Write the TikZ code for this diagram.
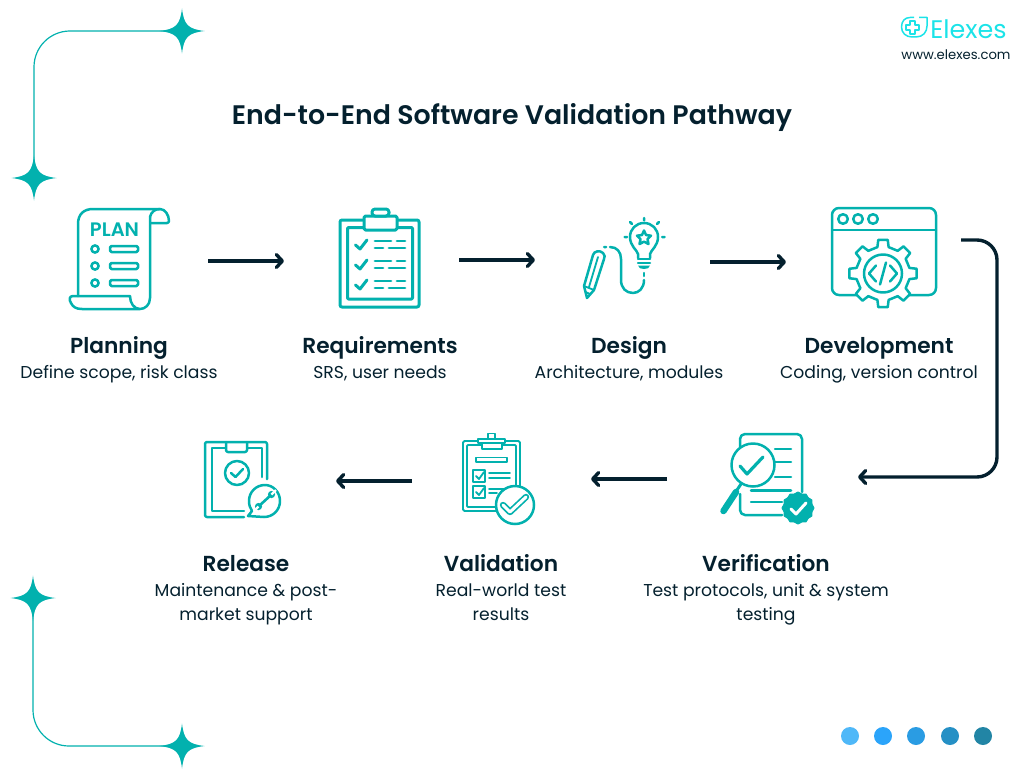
\documentclass[tikz,border=0pt]{standalone}
\usepackage{fontspec}
\setmainfont{Poppins}[BoldFont={Poppins SemiBold}]
\usepackage{xcolor}
\usetikzlibrary{arrows.meta}
\definecolor{tealline}{HTML}{02B1AE}
\definecolor{inkdark}{HTML}{04202E}
\definecolor{logocyan}{HTML}{1BE3E8}
\tikzset{
  icon/.style={draw=tealline,line width=2.5pt,line join=round,line cap=round},
  thinicon/.style={draw=tealline,line width=1.8pt,line join=round,line cap=round},
  flow/.style={draw=inkdark,line width=3.4pt,-{Straight Barb[length=6pt,width=13pt,round]}},
  stage/.style={font=\bfseries\fontsize{21.7}{24}\selectfont,text=inkdark,inner sep=0pt,anchor=base},
  note/.style={font=\fontsize{17.2}{24}\selectfont,text=inkdark,inner sep=0pt,align=center,anchor=base},
  sparkle/.pic={\fill[tealline] (0,-22.5) .. controls (2,-6) and (6,-2) .. (22.5,0) .. controls (6,2) and (2,6) .. (0,22.5) .. controls (-2,6) and (-6,2) .. (-22.5,0) .. controls (-6,-2) and (-2,-6) .. (0,-22.5) -- cycle;},
}
\begin{document}
\begin{tikzpicture}[x=1pt,y=-1pt]
  \useasboundingbox (0,0) rectangle (1024,768);
  % corner ornaments
  \coordinate (sparkA) at (182,31);
  \coordinate (sparkB) at (34,178);
  \coordinate (sparkC) at (33,598);
  \coordinate (sparkD) at (182,746);
  \draw[tealline,line width=1.2pt,rounded corners=36pt] (sparkA) -- (34,31) -- (sparkB);
  \draw[tealline,line width=1.2pt,rounded corners=36pt] (sparkC) -- (33,746) -- (sparkD);
  \pic at (sparkA) {sparkle};
  \pic at (sparkB) {sparkle};
  \pic at (sparkC) {sparkle};
  \pic at (sparkD) {sparkle};
  % logo
  \draw[logocyan,line width=1.5pt,line join=round] (914,17.5) -- (910,17.5) .. controls (905,17.5) and (901.5,21) .. (901.5,27) .. controls (901.5,33) and (906,37) .. (912,37) -- (916,37) .. controls (923,37) and (927,32) .. (927,26) -- (927,17.5) -- (919,17.5);
  \draw[logocyan,line width=1.5pt,line join=round] (910,21) -- (915,21) -- (915,25) -- (919,25) -- (919,30) -- (915,30) -- (915,34) -- (910,34) -- (910,30) -- (906,30) -- (906,25) -- (910,25) -- cycle;
  \node[inner sep=0pt,text=logocyan,font=\fontsize{25.4}{28}\selectfont] (brand) at (968.5,29) {Elexes};
  \node[inner sep=0pt,text=inkdark,font=\fontsize{13.2}{16}\selectfont] (site) at (956,55) {www.elexes.com};
  % title
  \node[inner sep=0pt,text=inkdark,font=\bfseries\fontsize{26.8}{30}\selectfont] (title) at (512,118) {End-to-End Software Validation Pathway};
  % plan scroll
  \draw[icon] (150,217) -- (150,298) .. controls (150,305) and (145,309) .. (140,309) .. controls (134,309) and (130,303) .. (130,296) -- (73,296) .. controls (69,296) and (69,300) .. (71,303) .. controls (73,307) and (76,309) .. (82,309) -- (140,309);
  \draw[icon] (78,296) -- (78,224) .. controls (78,214) and (84,209) .. (93,209) -- (160,209) .. controls (165,209) and (169,215) .. (169,221) .. controls (169,222) and (168,223) .. (167,223) -- (151,223);
  \draw[icon] (150,217) .. controls (151,212) and (155,209) .. (160,209);
  \node[inner sep=0pt,text=tealline,font=\bfseries\fontsize{19.5}{24}\selectfont] (plan) at (114.5,230) {PLAN};
  \foreach \y in {249,266,283} {
    \draw[icon] (95,\y) circle (3.6);
    \draw[icon,rounded corners=1.5pt] (110,\y-3) rectangle (138,\y+3);
  }
  % clipboard
  \draw[icon,line width=3pt,rounded corners=2pt] (340,220) rectangle (419,307);
  \draw[icon,line width=3pt,rounded corners=1pt] (347.5,227.5) rectangle (412.5,299);
  \draw[icon,line width=3pt,fill=white,rounded corners=1.5pt] (364,216) rectangle (397,230);
  \draw[icon,line width=3pt,fill=white,rounded corners=3pt] (372,209) rectangle (389,216);
  \foreach \y in {0,20,40} {
    \draw[icon,line width=3pt] (355.5,245+\y) -- (360,249+\y) -- (367,240+\y);
    \draw[icon,line width=2.8pt] (375,241+\y) -- (391,241+\y) (397,241+\y) -- (405,241+\y);
    \draw[icon,line width=2.8pt] (375,248+\y) -- (383,248+\y) (389,248+\y) -- (405,248+\y);
  }
  % bulb and pencil
  \draw[icon] (638,258) -- (638,254) .. controls (637,250) and (630,246) .. (630,237) .. controls (630,229) and (636,223) .. (644,223) .. controls (652,223) and (658,229) .. (658,237) .. controls (658,246) and (651,250) .. (650,254) -- (650,258);
  \draw[icon] (638,259) -- (650,259) (638,263) -- (650,263);
  \fill[tealline] (638,265.5) -- (650,265.5) .. controls (650,268) and (647,269) .. (644,269) .. controls (641,269) and (638,268) .. (638,265.5) -- cycle;
  \draw[icon] (644,230.5) -- (646,235) -- (651,235.7) -- (647.5,239.2) -- (648.5,244) -- (644,241.7) -- (639.5,244) -- (640.5,239.2) -- (637,235.7) -- (642,235) -- cycle;
  \draw[icon] (644,218) -- (644,220.5) (624.5,237) -- (627,237) (662,237) -- (664.5,237) (630,222) -- (632,224) (659,222) -- (657,224);
  \draw[icon] (644,273) -- (644,276);
  \draw[icon] (644,280) .. controls (644,288) and (639,293) .. (633,293) .. controls (626,293) and (621,288) .. (621,280) -- (621,259) .. controls (621,252) and (617,247) .. (610,247) (604,247) -- (606,247);
  \draw[icon] (584,286) -- (593,255) .. controls (594,251) and (600,250) .. (603,253) .. controls (605,255) and (605,257) .. (604,259) -- (594,290) -- (587,298) -- (584,286) -- cycle;
  \draw[thinicon] (589,287) -- (598,257) (584,286) -- (594,290) (585.5,292) -- (590,294);
  % window and gear
  \draw[icon,rounded corners=7pt] (832,208) rectangle (936,295);
  \draw[icon] (832,230) -- (936,230);
  \foreach \x in {843,858,873} {\draw[icon] (\x,219) circle (4.8);}
  \begin{scope}[shift={(883,273.5)}]
    \draw[icon,fill=white] (-12:27) \foreach \a in {0,45,...,315} { -- (\a-12:27) -- (\a-8:34) -- (\a+8:34) -- (\a+12:27)} -- cycle;
    \draw[icon] (0,0) circle (19);
    \draw[icon] (-7,-8) -- (-14,0) -- (-7,8) (7,-8) -- (14,0) -- (7,8) (3,-11) -- (-3,11);
  \end{scope}
  % inspected document
  \draw[icon,rounded corners=5pt] (740,480) -- (740,434) -- (802,434) -- (802,492);
  \draw[icon,rounded corners=5pt] (740,494) -- (740,515) -- (782,515);
  \draw[thinicon,line width=3pt] (743,481) -- (735,493);
  \draw[icon,fill=white] (753,465) circle (21.5);
  \draw[icon] (775,449) -- (791,449) (775,462) -- (791,462) (775,477) -- (791,477) (751,490.5) -- (791,490.5) (751,502) -- (782,502);
  \draw[tealline,line width=6.5pt,line cap=round] (723.5,511) -- (736,492);
  \draw[tealline,line width=3.2pt,line cap=round,line join=round] (740,466) -- (747,474) -- (763,457);
  \begin{scope}[shift={(798,508)}]
    \fill[tealline,draw=tealline,line width=1pt,line join=round] (0:16) \foreach \a in {15,30,...,345} { -- (\a:{mod(\a,30)==0 ? 16 : 14.5})} -- cycle;
    \draw[white,line width=3pt,line cap=round,line join=round] (-7,1) -- (-2,6) -- (8,-5);
  \end{scope}
  % validation board
  \draw[thinicon,rounded corners=1.5pt] (463,441) rectangle (520,511);
  \draw[thinicon,rounded corners=1pt] (467,445) rectangle (516,507);
  \draw[thinicon,fill=white] (482,443) rectangle (502,449);
  \draw[thinicon,fill=white] (478,439) rectangle (505,443);
  \draw[thinicon,fill=white] (488,433.5) rectangle (495,439);
  \draw[thinicon] (476,457.5) rectangle (507,462);
  \draw[thinicon] (473,470) rectangle (485,482) (473,486) rectangle (485,498);
  \draw[thinicon] (476,476) -- (479,479) -- (484,472) (476,492) -- (479,495) -- (484,488);
  \draw[thinicon] (489,473) -- (510,473) (489,478) -- (510,478) (489,489) -- (505,489) (489,493) -- (497,493);
  \draw[icon,fill=white] (515,505) circle (19);
  \draw[tealline,line width=6.4pt,line cap=round,line join=round] (503,505) -- (510,512) -- (526,497);
  \draw[white,line width=3pt,line cap=round,line join=round] (503,505) -- (510,512) -- (526,497);
  % release board
  \draw[icon,rounded corners=2pt] (267,479) -- (267,442) -- (205,442) -- (205,517) -- (244,517);
  \draw[icon] (262,477) -- (262,448) -- (248,448) (225,448) -- (212,448) -- (212,511) -- (244,511);
  \draw[icon,rounded corners=2pt] (226,442) -- (226,452) -- (247,452) -- (247,442);
  \draw[icon] (237,473) circle (12);
  \draw[icon] (231,473) -- (235.5,477) -- (243,469);
  \draw[icon] (264,517) .. controls (273,517) and (280,510) .. (280,501) .. controls (280,492) and (273,485) .. (265,485) .. controls (256,485) and (249,492) .. (249,501) .. controls (249,505) and (250,508) .. (252,511) -- (248,516) -- cycle;
  \draw[tealline,line width=2.6pt] (259,506) -- (271,495);
  \fill[tealline] (258.5,506.5) circle (3.6) (271.5,494.5) circle (3.6);
  \draw[white,line width=2.2pt] (258.5,506.5) -- (254,511) (271.5,494.5) -- (276,490);
  % arrows
  \coordinate (flowA) at (208,261);
  \coordinate (flowB) at (284,261);
  \coordinate (flowC) at (459,260);
  \coordinate (flowD) at (535,260);
  \coordinate (flowE) at (710,262);
  \coordinate (flowF) at (786,262);
  \coordinate (flowG) at (961,240);
  \coordinate (flowH) at (858,477);
  \coordinate (flowI) at (667,479);
  \coordinate (flowJ) at (591,479);
  \coordinate (flowK) at (412,481);
  \coordinate (flowL) at (336,481);
  \draw[flow] (flowA) -- (flowB);
  \draw[flow] (flowC) -- (flowD);
  \draw[flow] (flowE) -- (flowF);
  \draw[flow,rounded corners=20pt] (flowG) -- (997,240) -- (997,477) -- (flowH);
  \draw[flow] (flowI) -- (flowJ);
  \draw[flow] (flowK) -- (flowL);
  % labels
  \node[stage] (planning) at (119,353) {Planning};
  \node[stage] (requirements) at (380,353) {Requirements};
  \node[stage] (design) at (629,353) {Design};
  \node[stage] (development) at (879,353) {Development};
  \node[stage] (release) at (246,571) {Release};
  \node[stage] (validation) at (501,571) {Validation};
  \node[stage] (verification) at (766,571) {Verification};
  \node[note] (planningnote) at (119,378) {Define scope, risk class};
  \node[note] (requirementsnote) at (380,378) {SRS, user needs};
  \node[note] (designnote) at (629,378) {Architecture, modules};
  \node[note] (developmentnote) at (879,378) {Coding, version control};
  \node[note] (releasenote) at (246,620) {Maintenance \& post-\\market support};
  \node[note] (validationnote) at (501,620) {Real-world test\\results};
  \node[note] (verificationnote) at (766,620) {Test protocols, unit \& system\\testing};
  % page dots
  \foreach \x/\c in {850/4FB8F8,883/2BA4FA,916/2A9CE3,950/2590C5,983/2285A5} {
    \definecolor{dotfill}{HTML}{\c}
    \fill[dotfill] (\x,736) circle (9);
  }
\end{tikzpicture}
\end{document}
